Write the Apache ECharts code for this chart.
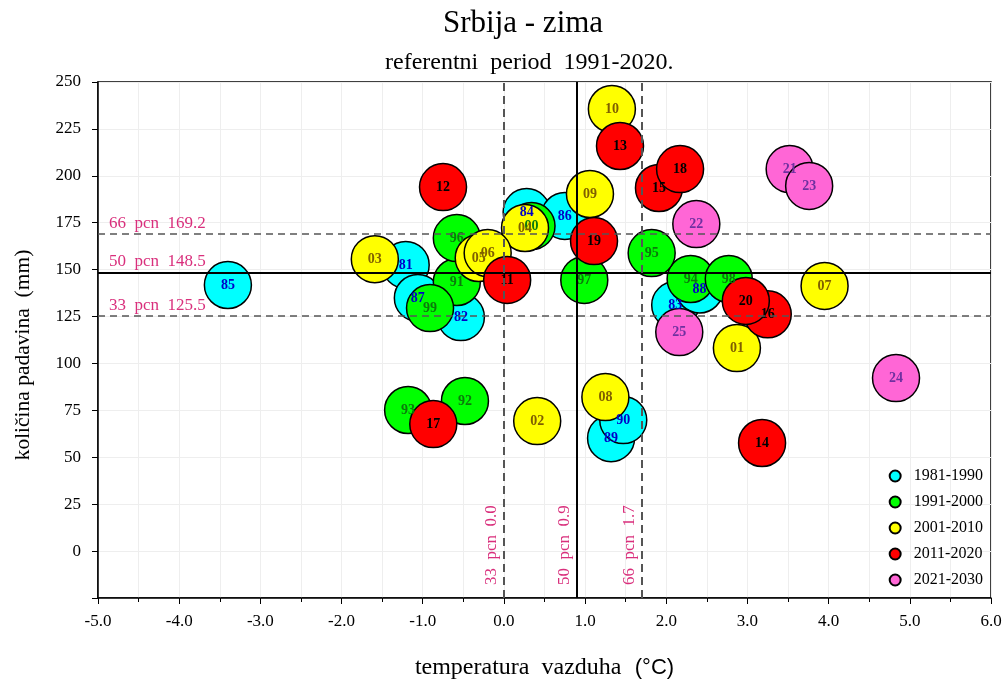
<!DOCTYPE html>
<html><head><meta charset="utf-8">
<script src="https://cdn.jsdelivr.net/npm/echarts@6/dist/echarts.min.js"></script>
<style>html,body{margin:0;padding:0;background:#fff}#c{width:1004px;height:680px}</style>
</head><body><div id="c"></div>
<script>
const seriesNames = ['1981-1990','1991-2000','2001-2010','2011-2020','2021-2030'];
const labels81 = ['81','82','83','84','85','86','87','88','89','90'];
const temp81 = [-1.21,-0.53,2.11,0.28,-3.40,0.75,-1.06,2.41,1.32,1.47];
const prec81 = [152.5,124.7,131.1,180.7,141.8,178.6,134.9,139.4,60.2,69.8];
const labels91 = ['91','92','93','94','95','96','97','98','99','00'];
const temp91 = [-0.58,-0.48,-1.18,2.30,1.82,-0.58,0.99,2.77,-0.91,0.34];
const prec91 = [143.4,80.0,75.2,145.0,158.8,166.8,144.5,145.0,129.5,173.2];
const labels01 = ['01','02','03','04','05','06','07','08','09','10'];
const temp01 = [2.87,0.41,-1.59,0.26,-0.31,-0.20,3.95,1.25,1.06,1.33];
const prec01 = [108.2,69.3,155.6,172.2,156.2,158.8,141.3,82.1,190.3,235.6];
const labels11 = ['11','12','13','14','15','16','17','18','19','20'];
const temp11 = [0.04,-0.75,1.43,3.18,1.91,3.25,-0.87,2.17,1.11,2.98];
const prec11 = [144.5,194.0,215.9,57.6,193.5,126.2,67.7,203.6,165.2,133.3];
const labels21 = ['21','22','23','24','25'];
const temp21 = [3.52,2.37,3.76,4.83,2.16];
const prec21 = [203.6,174.3,194.6,92.2,116.7];
const pcnLevels = ['33','50','66'];
const pcnTemp = [0.0, 0.9, 1.7];
const pcnPrec = [125.5, 148.5, 169.2];

const fills = ['#00ffff','#00ff00','#ffff00','#ff0000','#ff66d6'];
const labelColors = ['#0000c8','#0b7a0b','#7f5f00','#000000','#7030a0'];
const groups = [[labels81,temp81,prec81],[labels91,temp91,prec91],[labels01,temp01,prec01],[labels11,temp11,prec11],[labels21,temp21,prec21]];
const serif = 'Liberation Serif';
const pink = '#d92f7c';

const series = groups.map((g, i) => ({
  name: seriesNames[i], type: 'scatter', symbolSize: 47, z: 3,
  itemStyle: {color: fills[i], borderColor: '#000', borderWidth: 1.5, opacity: 1},
  label: {show: true, position: 'inside', formatter: p => p.name, color: labelColors[i],
          fontFamily: serif, fontWeight: 'bold', fontSize: 14},
  emphasis: {disabled: true},
  data: g[0].map((n, k) => ({name: n, value: [g[1][k], g[2][k]]}))
}));

series.push({
  type: 'scatter', data: [], silent: true, z: 2,
  markLine: {
    symbol: 'none', silent: true, animation: false,
    data: [
      ...pcnPrec.map((v, k) => ({yAxis: v,
        lineStyle: k === 1 ? {color: '#000', width: 2, type: 'solid'} : {color: '#555', width: 1.6, type: [7, 5]},
        label: {formatter: pcnLevels[k] + '  pcn  ' + v.toFixed(1), position: 'insideStartTop', distance: [11, 2]}})),
      ...pcnTemp.map((v, k) => ({xAxis: v,
        lineStyle: k === 1 ? {color: '#000', width: 2, type: 'solid'} : {color: '#555', width: 2, type: [8, 5]},
        label: {formatter: pcnLevels[k] + '  pcn  ' + v.toFixed(1), position: 'insideStartTop', distance: [13, 4]}}))
    ],
    label: {color: pink, fontFamily: serif, fontSize: 17}
  }
});

const chart = echarts.init(document.getElementById('c'), null, {renderer: 'canvas'});
chart.setOption({
  animation: false,
  title: [
    {text: 'Srbija - zima', left: 438, top: 3, textStyle: {fontFamily: serif, fontWeight: 'normal', fontSize: 31, color: '#000'}},
    {text: 'referentni  period  1991-2020.', left: 380, top: 46, textStyle: {fontFamily: serif, fontWeight: 'normal', fontSize: 24, color: '#000'}}
  ],
  grid: {left: 98, right: 13, top: 82, bottom: 82, show: true, borderColor: '#000', borderWidth: 1.5,
         backgroundColor: 'transparent', containLabel: false, outerBoundsMode: 'none'},
  legend: {
    data: seriesNames, orient: 'vertical', right: 16, top: 463, itemGap: 10,
    itemWidth: 11, itemHeight: 11, icon: 'circle',
    textStyle: {fontFamily: serif, fontSize: 16, color: '#000', padding: [0, 0, 0, 8]}
  },
  xAxis: {
    type: 'value', min: -5, max: 6, interval: 1,
    name: '{a|temperatura  vazduha}    {b|(°C)}', nameLocation: 'middle', nameGap: 58,
    nameTextStyle: {rich: {
      a: {fontFamily: serif, fontSize: 24, color: '#000'},
      b: {fontFamily: 'Liberation Sans', fontSize: 22, color: '#000'}}},
    axisLine: {onZero: false, lineStyle: {color: '#000', width: 1.5}},
    axisTick: {show: true, length: 6, lineStyle: {color: '#000'}},
    minorTick: {show: true, splitNumber: 2, length: 4, lineStyle: {color: '#000'}},
    axisLabel: {formatter: v => v.toFixed(1), fontFamily: serif, fontSize: 17, color: '#000', margin: 15},
    splitLine: {show: true, lineStyle: {color: '#eeeeee'}},
    minorSplitLine: {show: true, lineStyle: {color: '#eeeeee'}}
  },
  yAxis: {
    type: 'value', min: -25, max: 250, interval: 25,
    name: 'količina padavina  (mm)', nameLocation: 'middle', nameGap: 64,
    nameTextStyle: {fontFamily: serif, fontSize: 21.5, color: '#000', padding: [0, 30, 0, 0]},
    axisLine: {onZero: false, lineStyle: {color: '#000', width: 1.5}},
    axisTick: {show: true, length: 6, lineStyle: {color: '#000'}},
    axisLabel: {formatter: v => (v < 0 ? '' : String(v)), fontFamily: serif, fontSize: 17, color: '#000', margin: 17},
    splitLine: {show: true, lineStyle: {color: '#eeeeee'}}
  },
  series: series
});
</script></body></html>
